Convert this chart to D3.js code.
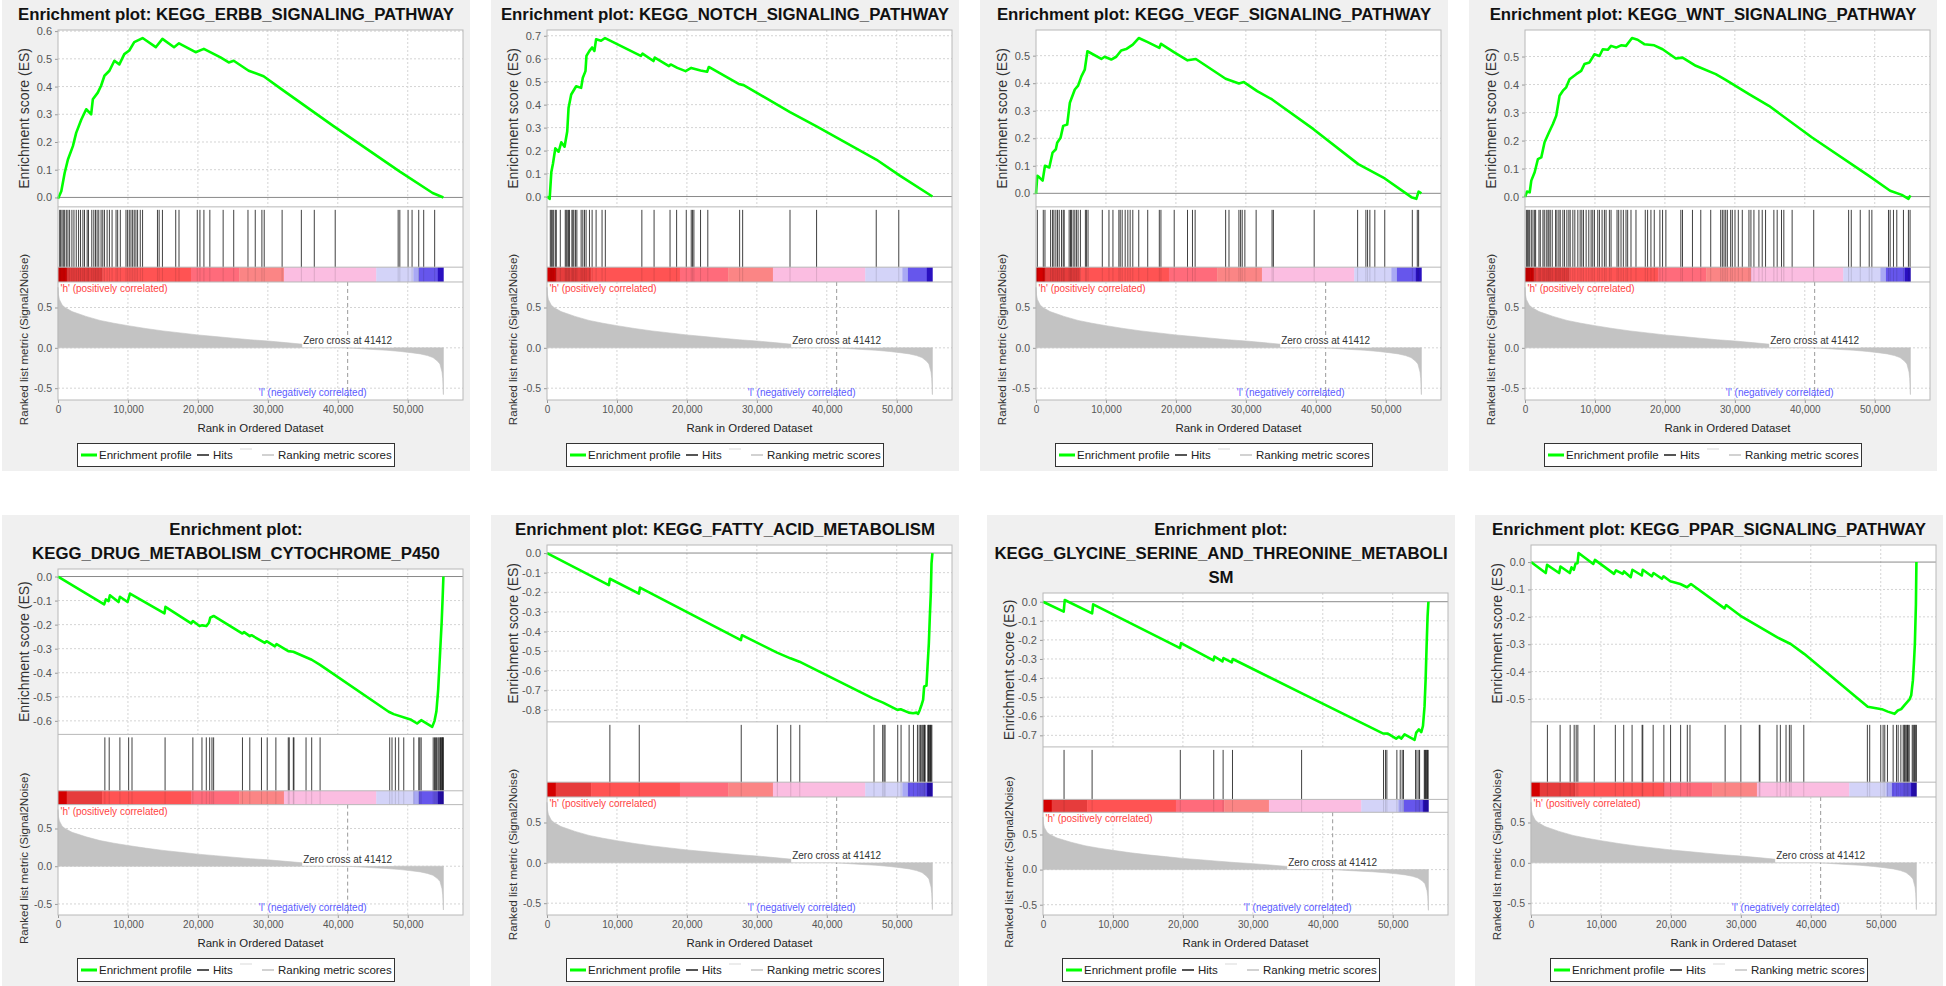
<!DOCTYPE html>
<html><head><meta charset="utf-8">
<script src="https://cdn.jsdelivr.net/npm/d3@7"></script>
<style>
html,body{margin:0;padding:0;background:#fff;}
svg{display:block;font-family:"Liberation Sans",Arial,sans-serif;}
</style></head><body>
<svg id="chart" width="1946" height="986"></svg>
<script>
// ---------------- DATA ----------------
const listSize = 55100;
const rankAxisMax = 57900;
const zeroCross = 41412;
const rankTicks = [0, 10000, 20000, 30000, 40000, 50000];
const metricTicks = [-0.5, 0.0, 0.5];

// ranked list metric (Signal2Noise): [rank, value]
const metricPoints = [[0,0.75],[60,0.66],[200,0.6],[600,0.53],[1000,0.5],[2000,0.45],[4000,0.39],[6000,0.34],[8000,0.305],[10000,0.275],[12500,0.24],[15000,0.21],[17500,0.185],[20000,0.16],[22500,0.14],[25000,0.12],[27500,0.1],[30000,0.085],[32500,0.065],[35000,0.045],[38000,0.025],[41412,0],[44000,-0.015],[47000,-0.03],[49000,-0.045],[50500,-0.06],[51800,-0.075],[52800,-0.095],[53600,-0.12],[54200,-0.16],[54600,-0.2],[54900,-0.3],[55000,-0.38],[55100,-0.58]];

// colour bar segments [startRank, endRank]
const barRanges = [[0,1250],[1250,6300],[6300,19000],[19000,25900],[25900,32300],[32300,45500],[45500,50800],[50800,51600],[51600,54300],[54300,55100]];
const barColors = ["#d40000","#e63c3c","#ff5353","#ff6b7b","#fb8585","#fbbde1","#d3d3f8","#a9a9f4","#6656ec","#2a10c0"];

const titles = [
  ["Enrichment plot: KEGG_ERBB_SIGNALING_PATHWAY"],
  ["Enrichment plot: KEGG_NOTCH_SIGNALING_PATHWAY"],
  ["Enrichment plot: KEGG_VEGF_SIGNALING_PATHWAY"],
  ["Enrichment plot: KEGG_WNT_SIGNALING_PATHWAY"],
  ["Enrichment plot:", "KEGG_DRUG_METABOLISM_CYTOCHROME_P450"],
  ["Enrichment plot: KEGG_FATTY_ACID_METABOLISM"],
  ["Enrichment plot:", "KEGG_GLYCINE_SERINE_AND_THREONINE_METABOLI", "SM"],
  ["Enrichment plot: KEGG_PPAR_SIGNALING_PATHWAY"]
];

// enrichment score curves [rank, ES]
const erbbES = [[0,-0.005],[470,0.022],[950,0.088],[1420,0.137],[2130,0.185],[2600,0.233],[3320,0.28],[4030,0.318],[4740,0.3],[4980,0.354],[5690,0.378],[6160,0.403],[6640,0.439],[7350,0.457],[8060,0.493],[8770,0.48],[9480,0.517],[10190,0.53],[10900,0.56],[12090,0.575],[13980,0.542],[14930,0.572],[16590,0.542],[17300,0.556],[19670,0.524],[20850,0.536],[23230,0.505],[24410,0.487],[25120,0.493],[27260,0.457],[29390,0.437],[31990,0.39],[39340,0.258],[48820,0.094],[53560,0.016],[55100,0.0]];
const notchES = [[0,0],[380,-0.01],[620,0.107],[850,0.143],[1190,0.21],[1660,0.195],[2040,0.236],[2510,0.217],[2890,0.283],[3080,0.385],[3460,0.444],[4170,0.48],[4880,0.473],[5120,0.517],[5500,0.546],[5640,0.612],[6070,0.634],[6450,0.649],[6780,0.634],[7020,0.685],[7730,0.678],[8300,0.69],[13410,0.612],[13650,0.622],[15220,0.59],[15410,0.605],[17440,0.568],[17680,0.575],[18630,0.56],[19810,0.546],[20620,0.56],[21950,0.549],[22890,0.543],[23130,0.564],[27400,0.49],[28110,0.485],[34740,0.367],[38540,0.305],[47070,0.161],[50390,0.092],[55100,0.0]];
const vegfES = [[0,-0.002],[190,0.064],[470,0.058],[950,0.046],[1280,0.1],[1900,0.094],[2370,0.148],[2840,0.16],[3030,0.184],[3510,0.202],[3890,0.245],[4460,0.25],[4840,0.329],[5550,0.377],[6020,0.391],[6490,0.425],[6970,0.449],[7350,0.516],[9340,0.488],[9810,0.496],[10760,0.486],[11470,0.496],[12180,0.519],[12890,0.524],[13840,0.54],[14690,0.564],[15970,0.549],[17630,0.528],[17870,0.543],[19770,0.512],[21660,0.483],[22850,0.488],[27110,0.416],[29010,0.399],[29720,0.404],[31620,0.371],[33750,0.341],[39670,0.233],[46070,0.106],[49860,0.054],[53660,-0.014],[54370,-0.02],[54700,0.006],[55100,0.0]];
const wntES = [[0,-0.002],[290,0.018],[670,0.015],[900,0.057],[1380,0.087],[1850,0.134],[2330,0.14],[2800,0.194],[3420,0.229],[3990,0.259],[4470,0.289],[4940,0.36],[5420,0.378],[5890,0.39],[6370,0.419],[7320,0.437],[8030,0.449],[8500,0.473],[9220,0.479],[9930,0.508],[10640,0.502],[11120,0.526],[11830,0.524],[12300,0.538],[13020,0.532],[13730,0.54],[14440,0.538],[15300,0.566],[16100,0.56],[17050,0.544],[18480,0.54],[19670,0.526],[21570,0.493],[22520,0.496],[24420,0.467],[27270,0.437],[28690,0.417],[32020,0.366],[34870,0.324],[41040,0.211],[49120,0.075],[52200,0.021],[53870,0.006],[54820,-0.008],[55100,0.004]];
const drugES = [[0,0],[6600,-0.116],[6840,-0.095],[7230,-0.102],[7420,-0.078],[8660,-0.106],[8850,-0.084],[9950,-0.106],[10290,-0.071],[15220,-0.153],[15360,-0.126],[19040,-0.195],[19280,-0.185],[20240,-0.206],[20620,-0.203],[21200,-0.206],[21580,-0.192],[21770,-0.171],[22250,-0.164],[26370,-0.237],[26600,-0.231],[27420,-0.248],[27660,-0.244],[29570,-0.276],[29810,-0.269],[31010,-0.29],[31250,-0.281],[32920,-0.31],[33640,-0.313],[36270,-0.346],[37470,-0.367],[47280,-0.562],[47990,-0.572],[50390,-0.594],[51340,-0.611],[51920,-0.597],[53500,-0.625],[53830,-0.6],[54100,-0.56],[54350,-0.47],[54600,-0.33],[54850,-0.19],[55000,-0.08],[55100,0]];
const fattyES = [[0,0],[8840,-0.164],[8990,-0.131],[13150,-0.207],[13290,-0.176],[27720,-0.444],[27870,-0.419],[32890,-0.508],[34800,-0.537],[36090,-0.554],[46600,-0.741],[48040,-0.763],[50090,-0.8],[50570,-0.797],[51720,-0.814],[52340,-0.817],[52820,-0.814],[53060,-0.82],[53300,-0.8],[53540,-0.775],[53770,-0.749],[53920,-0.681],[54250,-0.676],[54400,-0.58],[54590,-0.461],[54730,-0.325],[54870,-0.207],[54970,-0.054],[55100,0]];
const glycineES = [[0,0],[2960,-0.052],[3110,0.009],[7020,-0.061],[7170,-0.014],[19590,-0.243],[19730,-0.217],[24360,-0.307],[24510,-0.287],[25650,-0.313],[25800,-0.295],[26990,-0.318],[27130,-0.3],[36880,-0.478],[48580,-0.69],[49300,-0.691],[50490,-0.717],[50880,-0.707],[51210,-0.717],[51690,-0.695],[53120,-0.724],[53360,-0.686],[53740,-0.669],[54080,-0.683],[54320,-0.651],[54550,-0.547],[54700,-0.408],[54840,-0.234],[54980,-0.078],[55100,0]];
const pparES = [[0,0],[2110,-0.04],[2300,-0.01],[4020,-0.04],[4210,-0.016],[5550,-0.04],[5790,-0.019],[6130,-0.028],[6360,-0.006],[6650,-0.004],[6800,0.033],[8900,-0.007],[9140,0.008],[11870,-0.043],[12150,-0.03],[13110,-0.043],[13300,-0.034],[14260,-0.055],[14500,-0.028],[15840,-0.049],[15980,-0.028],[17270,-0.052],[17510,-0.04],[18710,-0.061],[18950,-0.052],[19910,-0.07],[21340,-0.08],[22300,-0.092],[22870,-0.08],[27660,-0.169],[27900,-0.157],[29950,-0.196],[32590,-0.236],[35220,-0.275],[37130,-0.299],[39050,-0.335],[48140,-0.528],[50150,-0.537],[51010,-0.546],[51970,-0.554],[52440,-0.542],[52920,-0.537],[53400,-0.522],[54120,-0.501],[54360,-0.486],[54600,-0.431],[54740,-0.371],[54880,-0.299],[55030,-0.154],[55100,0]];

// gene-set hit ranks
const erbbHits = [240,380,570,760,950,1190,1420,1660,1990,2280,2610,2940,3220,3560,3790,4170,4360,4830,5120,5360,5590,5830,6160,6400,6640,7020,7350,7730,8300,8530,8910,9720,9950,10190,10430,10670,10900,11140,11380,11760,12090,14220,14460,14930,16830,17300,19910,20290,20860,21710,23610,25120,27160,28200,29150,29480,32040,34790,36640,39630,48630,48870,50050,50620,51570,52280,53850];
const notchHits = [470,620,760,950,1190,1330,1900,2610,2750,2890,3080,3220,3560,3700,3840,4080,4270,4880,5120,5360,5590,6070,6450,7020,7870,8340,13560,15310,17590,18530,19910,20620,20810,21000,21950,22990,27540,27970,34740,38540,47070,50290];
const vegfHits = [190,1040,1280,2090,2370,2560,2840,3080,3320,3650,3890,4030,4740,4930,5070,5310,5550,5780,6020,6350,7060,7210,7440,9480,10430,11000,11850,12040,12320,12750,13130,13460,13840,14690,15970,17630,17860,19760,21660,22370,22750,27110,27590,29010,29250,29480,29860,31470,33750,33940,39770,45980,47160,47400,47730,48440,49860,53800,54510,54700];
const wntHits = [190,332,475,665,903,1140,1378,1520,1995,2185,2565,2755,3040,3278,3420,3610,3895,4370,4560,4845,5035,5415,5653,5985,6270,6460,6840,7125,7553,7885,8123,8360,8740,9120,9453,9690,9928,10403,10640,11020,11353,11590,12065,12303,13158,13395,13728,14060,14440,14678,15153,15865,17195,17528,18003,18478,19285,19665,20140,22278,22515,23940,25128,26553,27978,28215,28453,28690,28928,29403,29640,30020,30495,31065,32015,32300,32728,33440,33915,34390,35578,36053,36670,37003,38190,41278,46265,46645,47928,49210,49590,51965,52203,52678,53153,54103,54815,55053];
const drugHits = [6700,7320,8850,10100,10580,15310,19280,20580,21200,21680,22010,22250,26370,27420,29090,29910,31150,32920,33060,33640,33730,35460,36270,37470,47420,47750,48230,48710,49430,50870,51580,51730,51920,53640,53830,53980,54120,54310,54450,54600,54690,54790,54880,54980,55030,55080];
const fattyHits = [8990,13190,27770,32930,34850,36140,46750,47990,48180,48330,50140,50620,51770,52390,52960,53200,53390,53580,53730,53870,53970,54060,54440,54540,54640,54730,54830,54920,55020];
const glycineHits = [3010,7020,19630,24410,25750,27090,36970,48680,48960,49160,50590,51070,51350,51540,53260,53460,53740,53840,54510,54600,54700,54790,54890,54980,55060];
const pparHits = [2345,4163,5598,6173,6460,6699,9044,12058,13254,14451,15886,15982,17465,18996,19953,21389,22346,22729,27753,30002,32634,32729,35170,35648,36462,36940,37180,38998,48089,48424,50003,50338,50577,50960,51774,52252,52491,52874,53209,53353,53448,53592,53736,53832,53927,54071,54502,54645,54788,54884,55027,55080];

// table built from the arrays above
const panels = [
  {title: titles[0], es: erbbES, hits: erbbHits},
  {title: titles[1], es: notchES, hits: notchHits},
  {title: titles[2], es: vegfES, hits: vegfHits},
  {title: titles[3], es: wntES, hits: wntHits},
  {title: titles[4], es: drugES, hits: drugHits},
  {title: titles[5], es: fattyES, hits: fattyHits},
  {title: titles[6], es: glycineES, hits: glycineHits},
  {title: titles[7], es: pparES, hits: pparHits}
];

// ---------------- LAYOUT ----------------
const panelLeft = [[2, 491, 980, 1469], [2, 491, 987, 1475]];
const panelTop = [0, 515];
const PW = 468, PH = 471;
const fmt1 = v => d3.format(".1f")(Math.round(v * 10) / 10 + 0).replace("\u2212", "-");
const fmtRank = d3.format(",");
const svg = d3.select("#chart");

panels.forEach((p, i) => {
  const row = Math.floor(i / 4), col = i % 4;
  const g = svg.append("g").attr("transform", `translate(${panelLeft[row][col]},${panelTop[row]})`);
  drawPanel(g, p);
});

function drawPanel(g, p) {
  g.append("rect").attr("width", PW).attr("height", PH).attr("fill", "#f0f0f0");
  p.title.forEach((line, i) => {
    g.append("text").attr("x", PW / 2).attr("y", 19.5 + 24 * i)
      .attr("text-anchor", "middle").attr("font-weight", "bold")
      .attr("font-size", 16.8).attr("fill", "#111").text(line);
  });
  const top = 30 + 24 * (p.title.length - 1);
  const bottom = 400;
  const H = bottom - top;
  const esTop = top, esBot = top + H * 0.478;
  const cbTop = esBot + H * 0.163, cbBot = cbTop + H * 0.04;
  const mTop = cbBot, mBot = bottom;
  const left = 56, right = 461;

  const x = d3.scaleLinear().domain([0, rankAxisMax]).range([left, right]);
  const ext = d3.extent(p.es, d => d[1]);
  const pad = (ext[1] - ext[0]) * 0.05;
  const y = d3.scaleLinear().domain([ext[0] - pad, ext[1] + pad]).range([esBot, esTop]);
  const mExt = d3.extent(metricPoints, d => d[1]);
  const mPad = (mExt[1] - mExt[0]) * 0.05;
  const ym = d3.scaleLinear().domain([mExt[0] - mPad, mExt[1] + mPad]).range([mBot, mTop]);

  // white plot backgrounds
  g.append("rect").attr("x", left).attr("y", top).attr("width", right - left).attr("height", bottom - top).attr("fill", "#fff");

  const grid = "#d4d4d4";
  const esTicks = d3.range(Math.ceil(y.domain()[0] * 10 - 1e-9), Math.floor(y.domain()[1] * 10 + 1e-9) + 1).map(v => v / 10);

  // ES grid
  const gEs = g.append("g");
  gEs.selectAll("line.v").data(rankTicks.slice(1)).join("line")
    .attr("x1", d => x(d)).attr("x2", d => x(d)).attr("y1", esTop).attr("y2", esBot)
    .attr("stroke", grid).attr("stroke-dasharray", "2,2");
  gEs.selectAll("line.h").data(esTicks.filter(v => Math.abs(v) > 1e-9)).join("line")
    .attr("x1", left).attr("x2", right).attr("y1", d => y(d)).attr("y2", d => y(d))
    .attr("stroke", grid).attr("stroke-dasharray", "2,2");
  gEs.append("line").attr("x1", left).attr("x2", right).attr("y1", y(0)).attr("y2", y(0))
    .attr("stroke", "#8a8a8a").attr("stroke-width", 1);

  // ES axis
  const yAxis = d3.axisLeft(y).tickValues(esTicks).tickFormat(fmt1).tickSize(3).tickPadding(3);
  const ya = g.append("g").attr("transform", `translate(${left},0)`).call(yAxis);
  ya.select(".domain").remove();
  ya.selectAll("line").attr("stroke", "#999");
  ya.selectAll("text").attr("font-size", 11).attr("fill", "#555").attr("font-family", "Liberation Sans, Arial, sans-serif");

  g.append("text").attr("transform", `translate(27,${(esTop + esBot) / 2}) rotate(-90)`)
    .attr("text-anchor", "middle").attr("font-size", 14).attr("fill", "#333")
    .text("Enrichment score (ES)");

  // ES line
  g.append("path").datum(p.es)
    .attr("d", d3.line().x(d => x(d[0])).y(d => y(d[1])))
    .attr("fill", "none").attr("stroke", "#00ff00").attr("stroke-width", 2.6)
    .attr("stroke-linejoin", "round");

  // colour bar
  g.selectAll("rect.cb").data(barRanges).join("rect")
    .attr("x", d => x(d[0])).attr("width", d => x(d[1]) - x(d[0]) + 0.3)
    .attr("y", cbTop).attr("height", cbBot - cbTop)
    .attr("fill", (d, i) => barColors[i]);

  // hits
  g.selectAll("line.hit").data(p.hits).join("line")
    .attr("x1", d => x(d)).attr("x2", d => x(d)).attr("y1", esBot + 3).attr("y2", cbTop)
    .attr("stroke", "#111").attr("stroke-opacity", 0.8).attr("stroke-width", 1);
  g.selectAll("line.hitcb").data(p.hits).join("line")
    .attr("x1", d => x(d)).attr("x2", d => x(d)).attr("y1", cbTop).attr("y2", cbBot)
    .attr("stroke", "#000").attr("stroke-opacity", 0.12).attr("stroke-width", 1);

  // metric grid
  g.selectAll("line.mv").data(rankTicks.slice(1)).join("line")
    .attr("x1", d => x(d)).attr("x2", d => x(d)).attr("y1", mTop).attr("y2", mBot)
    .attr("stroke", grid).attr("stroke-dasharray", "2,2");
  g.selectAll("line.mh").data(metricTicks).join("line")
    .attr("x1", left).attr("x2", right).attr("y1", d => ym(d)).attr("y2", d => ym(d))
    .attr("stroke", grid).attr("stroke-dasharray", "2,2");

  // metric area
  g.append("path").datum(metricPoints)
    .attr("d", d3.area().x(d => x(d[0])).y0(ym(0)).y1(d => ym(d[1])))
    .attr("fill", "#c3c3c3").attr("stroke", "#c3c3c3").attr("stroke-width", 0.6);

  // zero cross
  g.append("line").attr("x1", x(zeroCross)).attr("x2", x(zeroCross)).attr("y1", mTop).attr("y2", mBot)
    .attr("stroke", "#9a9a9a").attr("stroke-dasharray", "4,3");
  const zl = g.append("text").attr("x", x(zeroCross)).attr("y", ym(0) - 3.5)
    .attr("text-anchor", "middle").attr("font-size", 10).attr("fill", "#333")
    .text("Zero cross at " + zeroCross);
  const bb = zl.node().getBBox();
  g.insert("rect", () => zl.node()).attr("x", bb.x - 1).attr("y", bb.y + 1)
    .attr("width", bb.width + 2).attr("height", ym(0) - bb.y - 1.5).attr("fill", "#fff");

  g.append("text").attr("x", left + 2.5).attr("y", cbBot + 10)
    .attr("font-size", 10).attr("fill", "#ff4444").text("'h' (positively correlated)");
  g.append("text").attr("x", x(zeroCross) - 35).attr("y", mBot - 4.5).attr("text-anchor", "middle")
    .attr("font-size", 10).attr("fill", "#5a5aff").text("'l' (negatively correlated)");

  // metric axis
  const ma = g.append("g").attr("transform", `translate(${left},0)`)
    .call(d3.axisLeft(ym).tickValues(metricTicks).tickFormat(fmt1).tickSize(3).tickPadding(3));
  ma.select(".domain").remove();
  ma.selectAll("line").attr("stroke", "#999");
  ma.selectAll("text").attr("font-size", 10.5).attr("fill", "#555").attr("font-family", "Liberation Sans, Arial, sans-serif");

  g.append("text").attr("transform", `translate(26,${(mTop + mBot) / 2 - 1.5}) rotate(-90)`)
    .attr("text-anchor", "middle").attr("font-size", 11.6).attr("fill", "#333")
    .text("Ranked list metric (Signal2Noise)");

  // x axis
  const xa = g.append("g").attr("transform", `translate(0,${mBot})`)
    .call(d3.axisBottom(x).tickValues(rankTicks).tickFormat(fmtRank).tickSize(3).tickPadding(3));
  xa.select(".domain").remove();
  xa.selectAll("line").attr("stroke", "#999");
  xa.selectAll("text").attr("font-size", 10).attr("fill", "#555").attr("font-family", "Liberation Sans, Arial, sans-serif");
  g.append("text").attr("x", (left + right) / 2).attr("y", mBot + 32).attr("text-anchor", "middle")
    .attr("font-size", 11.4).attr("fill", "#222").text("Rank in Ordered Dataset");

  // borders
  const border = "#b8b8b8";
  g.append("rect").attr("x", left).attr("y", top).attr("width", right - left).attr("height", bottom - top)
    .attr("fill", "none").attr("stroke", border);
  [esBot, cbTop, cbBot].forEach(v => g.append("line").attr("x1", left).attr("x2", right)
    .attr("y1", v).attr("y2", v).attr("stroke", border));

  // legend
  const lx = PW / 2 - 158.5, ly = 443.5, lh = 23, lc = ly + lh / 2;
  const lg = g.append("g");
  lg.append("rect").attr("x", lx).attr("y", ly).attr("width", 317).attr("height", lh)
    .attr("fill", "#fff").attr("stroke", "#333");
  lg.append("line").attr("x1", lx + 3.5).attr("x2", lx + 19.5).attr("y1", lc).attr("y2", lc)
    .attr("stroke", "#00ff00").attr("stroke-width", 3);
  lg.append("text").attr("x", lx + 21.5).attr("y", lc + 4).attr("font-size", 11.5).attr("fill", "#222").text("Enrichment profile");
  lg.append("line").attr("x1", lx + 119.5).attr("x2", lx + 131.5).attr("y1", lc).attr("y2", lc)
    .attr("stroke", "#555").attr("stroke-width", 2);
  lg.append("text").attr("x", lx + 135.5).attr("y", lc + 4).attr("font-size", 11.5).attr("fill", "#222").text("Hits");
  lg.append("line").attr("x1", lx + 162.5).attr("x2", lx + 174.5).attr("y1", lc - 6).attr("y2", lc - 6)
    .attr("stroke", "#e6e6e6").attr("stroke-width", 1.5);
  lg.append("line").attr("x1", lx + 184.5).attr("x2", lx + 196.5).attr("y1", lc).attr("y2", lc)
    .attr("stroke", "#d2d2d2").attr("stroke-width", 2);
  lg.append("text").attr("x", lx + 200.5).attr("y", lc + 4).attr("font-size", 11.5).attr("fill", "#222").text("Ranking metric scores");
}
</script>
</body></html>
